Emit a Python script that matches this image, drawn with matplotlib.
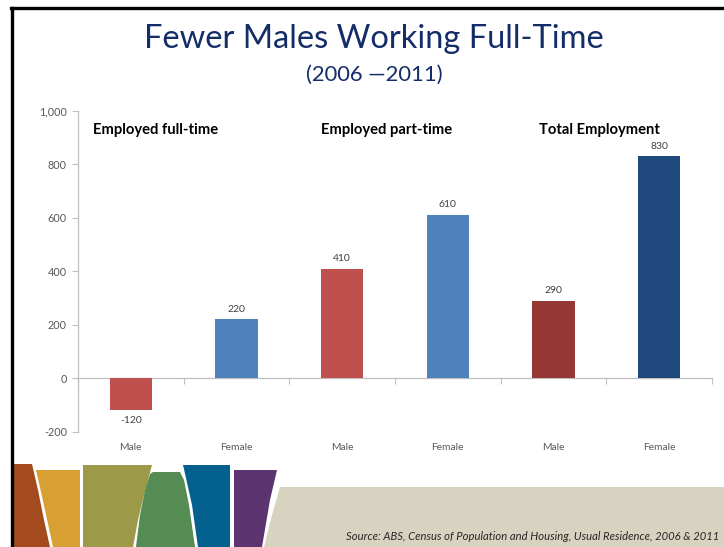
import matplotlib.pyplot as plt
from matplotlib.patches import Polygon
from matplotlib.lines import Line2D
from matplotlib.ticker import FuncFormatter

# data
categories = ['Male', 'Female', 'Male', 'Female', 'Male', 'Female']
values = [-120, 220, 410, 610, 290, 830]
bar_colors = ['#C0504D', '#4F81BD', '#C0504D', '#4F81BD', '#953735', '#1F497D']
groups = ['Employed full-time', 'Employed part-time', 'Total Employment']
group_x = [-0.36, 1.80, 3.86]
yticks = [-200, 0, 200, 400, 600, 800, 1000]

W, H = 724, 547
FONT = 'Lato'
plt.rcParams['font.family'] = [FONT, 'DejaVu Sans']

fig = plt.figure(figsize=(W / 100, H / 100), dpi=100)


def px(x, y):
    # slide pixel -> figure fraction
    return (x / W, 1 - y / H)


def shape(pts, color):
    fig.patches.append(Polygon([px(x, y) for x, y in pts], closed=True,
                               transform=fig.transFigure, facecolor=color,
                               edgecolor='none', zorder=0))


# decorative footer band
shape([(13, 464), (32, 464), (38, 490), (44, 520), (50, 547), (13, 547)], '#A44A1F')
shape([(36, 470), (80, 470), (80, 547), (53, 547), (45, 510)], '#D8A033')
shape([(83, 465), (152, 465), (144, 495), (138, 520), (133, 547), (83, 547)], '#9C9A48')
shape([(150, 474), (153, 472), (180, 472), (184, 480), (189, 505), (195, 547),
       (136, 547), (140, 515), (145, 490)], '#548C53')
shape([(183, 465), (230, 465), (230, 547), (198, 547), (192, 505), (186, 478)], '#03608F')
shape([(234, 470), (277, 470), (270, 500), (262, 547), (234, 547)], '#5C3470')
shape([(280, 487), (724, 487), (724, 547), (264, 547), (272, 515)], '#D8D3C1')

# slide frame
fig.lines.append(Line2D([11 / W, 1], [1 - 8 / H] * 2, transform=fig.transFigure,
                        color='black', lw=2.4))
fig.lines.append(Line2D([12 / W] * 2, [0, 1 - 8 / H], transform=fig.transFigure,
                        color='black', lw=2.4))

# titles
fig.text(374 / W, 1 - 39 / H, 'Fewer Males Working Full-Time', ha='center',
         va='center', fontsize=23.5, color='#142C68')
fig.text(374 / W, 1 - 75 / H, '(2006 \u20142011)', ha='center', va='center',
         fontsize=15.8, color='#142C68')
fig.text(346 / W, 1 - 536 / H,
         'Source: ABS, Census of Population and Housing, Usual Residence, 2006 & 2011',
         ha='left', va='center', fontsize=8.15, style='italic', color='#262626')

ax = fig.add_axes([78 / W, 1 - 431.7 / H, 634 / W, 321 / H])
ax.set_facecolor('none')
x = list(range(len(values)))
bars = ax.bar(x, values, width=0.4, color=bar_colors, zorder=3)

for xi, v in zip(x, values):
    off = 4 if v >= 0 else -4
    ax.annotate(f'{v}', (xi, v), xytext=(0, off), textcoords='offset points',
                ha='center', va='bottom' if v >= 0 else 'top', fontsize=7.5,
                color='#404040')

for gx, g in zip(group_x, groups):
    ax.text(gx, 928, g, ha='left', va='center', fontsize=10.6, fontweight='bold',
            color='black')

for xi, c in zip(x, categories):
    ax.text(xi, -0.048, c, transform=ax.get_xaxis_transform(), ha='center',
            va='center', fontsize=7.4, color='#595959')

ax.set_xlim(-0.5, len(values) - 0.5)
ax.set_ylim(-200, 1000)
ax.set_yticks(yticks)
ax.yaxis.set_major_formatter(FuncFormatter(lambda v, p: f'{int(v):,}'))
ax.tick_params(axis='y', length=4, color='#BFBFBF', labelsize=7.8,
               labelcolor='#595959', pad=4)

ax.spines['bottom'].set_position(('data', 0))
ax.set_xticks([i + 0.5 for i in range(-1, len(values))])
ax.set_xticklabels([])
ax.tick_params(axis='x', length=4, color='#BFBFBF', direction='out')
for s in ['top', 'right']:
    ax.spines[s].set_visible(False)
for s in ['left', 'bottom']:
    ax.spines[s].set_color('#BFBFBF')
    ax.spines[s].set_linewidth(0.9)

fig.savefig('out.png', dpi=100)
